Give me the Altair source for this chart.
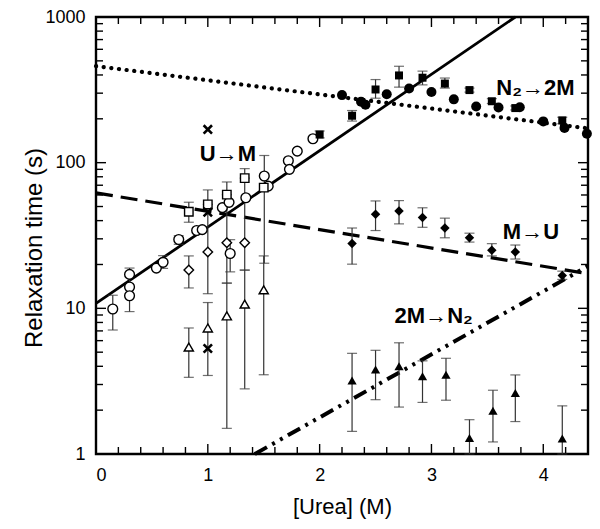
import altair as alt
import pandas as pd

# ---------------- data ----------------
# open circles
oc_x  = [0.15, 0.30, 0.30, 0.30, 0.54, 0.60, 0.74, 0.90, 0.95, 1.13, 1.19, 1.20, 1.34, 1.505, 1.54, 1.72, 1.73, 1.80, 1.94]
oc_y  = [9.9, 17.1, 14.0, 12.2, 18.9, 20.7, 29.7, 34.2, 34.7, 49.1, 53.4, 23.8, 57.4, 81.0, 69.0, 103, 90, 120, 146]
oc_lo = [7.1, None, 9.5, None, None, 18.8, 27.5, None, None, None, None, 17.8, None, 20.4, None, None, None, None, None]
oc_hi = [12.3, None, 18.9, None, None, 23.0, 31.5, None, None, None, None, 29.6, None, 112, None, None, None, None, None]

# open squares
os_x  = [0.83, 1.00, 1.17, 1.33, 1.50]
os_y  = [46.0, 51.7, 60.3, 78.3, 67.4]
os_lo = [39.0, None, None, None, None]
os_hi = [53.5, 65.0, 73.7, 91.0, None]

# open diamonds
od_x  = [0.83, 1.00, 1.17, 1.33]
od_y  = [18.3, 24.4, 28.2, 28.2]
od_lo = [13.8, 12.6, 14.9, 18.3]
od_hi = [22.9, 51.7, 60.3, 78.3]

# open triangles
ot_x  = [0.83, 1.00, 1.17, 1.33, 1.50]
ot_y  = [5.42, 7.33, 8.88, 10.7, 13.4]
ot_lo = [3.36, 3.46, 1.50, 2.80, 3.50]
ot_hi = [7.33, 10.96, 14.9, 18.3, 22.9]

# crosses
cr_x = [1.0, 1.0, 1.0]
cr_y = [169, 45.7, 5.3]

# filled squares
fs_x  = [2.00, 2.29, 2.50, 2.71, 2.92, 3.12, 3.34, 3.54, 3.75, 4.17]
fs_y  = [156, 210, 318, 397, 383, 349, 315, 264, 237, 195]
fs_lo = [148, 193, 277, 330, 342, 325, 305, 255, 230, 185]
fs_hi = [165, 228, 372, 459, 425, 381, 325, 275, 245, 205]

# filled circles
fc_x = [2.20, 2.37, 2.41, 2.60, 2.80, 3.00, 3.20, 3.40, 3.60, 3.79, 4.00, 4.19, 4.39]
fc_y = [291, 262, 250, 295, 323, 306, 272, 243, 239, 240, 192, 173, 158]

# filled diamonds
fd_x  = [2.29, 2.50, 2.71, 2.92, 3.12, 3.34, 3.54, 3.75, 4.17]
fd_y  = [27.9, 44.3, 46.6, 42.0, 35.6, 30.5, 25.0, 24.4, 16.8]
fd_lo = [20.1, 34.2, 38.0, 36.0, 30.5, 28.5, 22.9, 21.8, 15.8]
fd_hi = [35.6, 54.6, 54.9, 49.0, 41.6, 32.8, 27.8, 27.2, 18.0]

# filled triangles
ft_x  = [2.29, 2.50, 2.71, 2.92, 3.13, 3.34, 3.55, 3.75, 4.17]
ft_y  = [3.2, 3.8, 4.0, 3.42, 3.5, 1.29, 1.98, 2.62, 1.28]
ft_lo = [1.43, 2.36, 2.1, 2.26, 2.34, 1.0, 1.21, 1.67, 1.0]
ft_hi = [4.91, 5.15, 5.8, 4.36, 4.54, 1.72, 2.74, 3.49, 2.14]

# fitted lines (end points)
solid_x,  solid_y  = [0.0, 3.75], [10.8, 1000]
dotted_x, dotted_y = [0.0, 4.4], [460, 172]
dashed_x, dashed_y = [0.0, 4.4], [62, 17.3]
dd_x,     dd_y     = [1.42, 4.4], [1.0, 19.5]

# annotations
lab_text = ["U\u2192M", "N\u2082\u21922M", "M\u2192U", "2M\u2192N\u2082"]
lab_x    = [1.18, 3.93, 3.89, 3.02]
lab_y    = [115, 326, 33.4, 8.9]

y_title = ["Relaxation time (s)"]
x_title = "[Urea] (M)"

x_major = [0, 1, 2, 3, 4]
x_minor = [0.2, 0.4, 0.6, 0.8, 1.2, 1.4, 1.6, 1.8, 2.2, 2.4, 2.6, 2.8, 3.2, 3.4, 3.6, 3.8, 4.2, 4.4]
y_major = [1, 10, 100, 1000]
y_minor = [2, 3, 4, 5, 6, 7, 8, 9, 20, 30, 40, 50, 60, 70, 80, 90, 200, 300, 400, 500, 600, 700, 800, 900]

# ---------------- build tables ----------------
W, H = 492, 437

def table(xs, ys, los=None, his=None):
    n = len(xs)
    return pd.DataFrame({
        "x": xs, "y": ys,
        "lo": pd.to_numeric(pd.Series(los if los else [None] * n), errors="coerce"),
        "hi": pd.to_numeric(pd.Series(his if his else [None] * n), errors="coerce"),
    })

series = {
    "oc": table(oc_x, oc_y, oc_lo, oc_hi),
    "os": table(os_x, os_y, os_lo, os_hi),
    "od": table(od_x, od_y, od_lo, od_hi),
    "ot": table(ot_x, ot_y, ot_lo, ot_hi),
    "cr": table(cr_x, cr_y),
    "fs": table(fs_x, fs_y, fs_lo, fs_hi),
    "fc": table(fc_x, fc_y),
    "fd": table(fd_x, fd_y, fd_lo, fd_hi),
    "ft": table(ft_x, ft_y, ft_lo, ft_hi),
}
allpts = pd.concat(series.values(), ignore_index=True)
err = allpts[allpts["lo"].notna() | allpts["hi"].notna()].copy()
err["y1"] = err["lo"].fillna(err["y"])
err["y2"] = err["hi"].fillna(err["y"])
caps = pd.concat([
    err[["x", "lo"]].rename(columns={"lo": "yc"}),
    err[["x", "hi"]].rename(columns={"hi": "yc"}),
]).dropna()

xs = alt.Scale(domain=[0, 4.4], nice=False, zero=False)
ys = alt.Scale(type="log", domain=[1, 1000], nice=False)

FONT = "Liberation Sans"

AX = alt.Axis(orient="bottom", values=x_major, format="d", ticks=False, domain=False,
              grid=False, labelFontSize=18, labelPadding=12, labelColor="black",
              title=x_title, titleFontSize=22, titleFontWeight="normal",
              titlePadding=12, titleColor="black")
AY = alt.Axis(orient="left", values=y_major, format="d", ticks=False, domain=False,
              grid=False, labelFontSize=18, labelPadding=11, labelColor="black",
              title=None)

def X(field):
    return alt.X(field, scale=xs, axis=AX)

def Y(field):
    return alt.Y(field, scale=ys, axis=AY)

def line_layer(xv, yv, **kw):
    df = pd.DataFrame({"x": xv, "y": yv})
    return alt.Chart(df).mark_line(color="black", **kw).encode(x=X("x:Q"), y=Y("y:Q"))

lines = [
    line_layer(solid_x, solid_y, strokeWidth=2.8),
    line_layer(dotted_x, dotted_y, strokeWidth=4.2, strokeDash=[0.1, 7.6], strokeCap="round"),
    line_layer(dashed_x, dashed_y, strokeWidth=3.2, strokeDash=[17, 8]),
    line_layer(dd_x, dd_y, strokeWidth=4, strokeDash=[14, 6, 3, 6, 3, 6]),
]

# inward frame ticks (positions through the scales)
def xticks(vals, L, top):
    df = pd.DataFrame({"x": vals})
    y0, y1 = (0, L) if top else (H, H - L)
    return alt.Chart(df).mark_rule(color="black", strokeWidth=1.4).encode(
        x=X("x:Q"), y=alt.value(y0), y2=alt.value(y1))

def yticks(vals, L, right):
    df = pd.DataFrame({"y": vals})
    x0, x1 = (W, W - L) if right else (0, L)
    return alt.Chart(df).mark_rule(color="black", strokeWidth=1.4).encode(
        y=Y("y:Q"), x=alt.value(x0), x2=alt.value(x1))

ticks = [
    xticks(x_minor, 7, False), xticks(x_major, 10, False),
    xticks(x_minor, 7, True), xticks(x_major, 10, True),
    yticks(y_minor, 7, False), yticks(y_major, 10, False),
    yticks(y_minor, 7, True), yticks(y_major, 10, True),
]

rules = alt.Chart(err).mark_rule(color="#333333", strokeWidth=1.2).encode(
    x=X("x:Q"), y=Y("y1:Q"), y2="y2:Q")
capl = alt.Chart(caps).mark_tick(orient="horizontal", color="#333333", size=10, thickness=1.2).encode(
    x=X("x:Q"), y=Y("yc:Q"))

def pts(key, **kw):
    return alt.Chart(series[key]).mark_point(opacity=1, **kw).encode(x=X("x:Q"), y=Y("y:Q"))

XSHAPE = "M-1,-1L1,1M-1,1L1,-1"
points = [
    pts("oc", shape="circle", size=95, filled=True, fill="white", stroke="black", strokeWidth=1.4),
    pts("os", shape="square", size=72, filled=True, fill="white", stroke="black", strokeWidth=1.4),
    pts("od", shape="diamond", size=90, filled=True, fill="white", stroke="black", strokeWidth=1.4),
    pts("ot", shape="triangle-up", size=85, filled=True, fill="white", stroke="black", strokeWidth=1.4),
    pts("cr", shape=XSHAPE, size=70, filled=False, stroke="black", strokeWidth=2.6),
    pts("fs", shape="square", size=64, filled=True, fill="black", color="black"),
    pts("fc", shape="circle", size=100, filled=True, fill="black", color="black"),
    pts("fd", shape="diamond", size=90, filled=True, fill="black", color="black"),
    pts("ft", shape="triangle-up", size=85, filled=True, fill="black", color="black"),
]

labels_df = pd.DataFrame({"t": lab_text, "x": lab_x, "y": lab_y})
labels = alt.Chart(labels_df).mark_text(font=FONT, fontSize=22, fontWeight="bold", color="black",
                                        align="center", baseline="middle").encode(
    x=X("x:Q"), y=Y("y:Q"), text="t:N")

# y-axis title drawn as rotated text left of the tick labels
ytitle = alt.Chart(pd.DataFrame({"t": y_title})).mark_text(
    font=FONT, fontSize=24, angle=270, align="center", baseline="middle", color="black"
).encode(x=alt.value(-61), y=alt.value(231), text="t:N")

chart = alt.layer(*lines, *ticks, rules, capl, *points, labels, ytitle).properties(
    width=W, height=H,
    autosize=alt.AutoSizeParams(type="none"),
    padding={"left": 88, "top": 9, "right": 4, "bottom": 68},
).configure(font=FONT).configure_view(stroke="black", strokeWidth=2.4)

chart.save("out.html", embed_options={"renderer": "svg", "actions": False})
